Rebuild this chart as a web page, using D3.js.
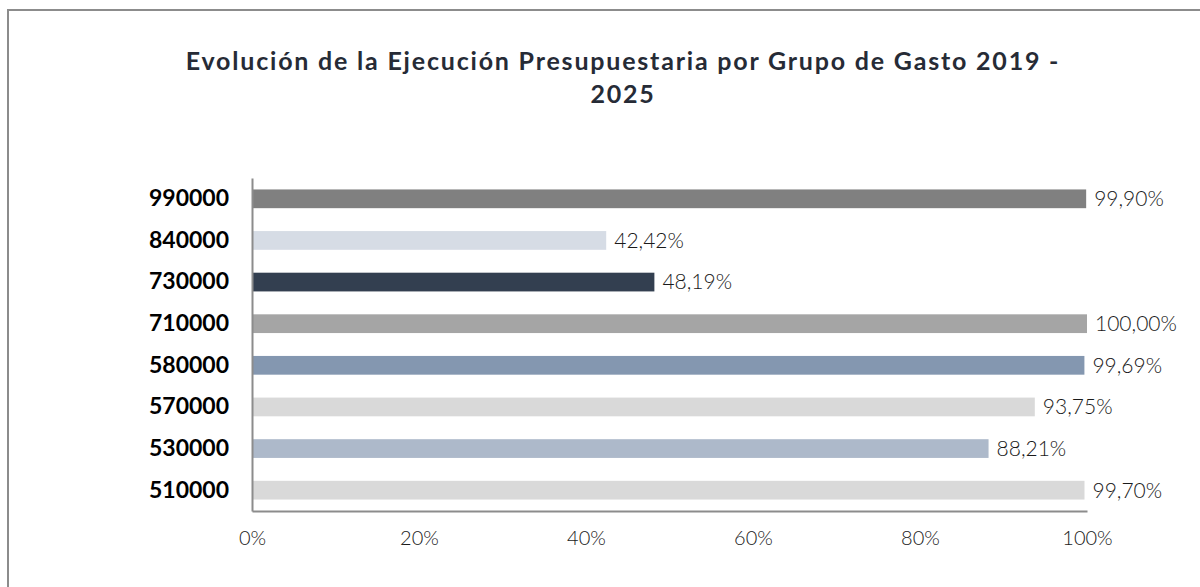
<!DOCTYPE html>
<html>
<head>
  <title></title>
  <script src="https://d3js.org/d3.v7.min.js"></script>
  <style>
    body { margin: 0; background: #fff; }
    text { font-family: "Lato", "Noto Sans", sans-serif; }
  </style>
</head>
<body>
<script type="text/javascript">
// data
var groups = ["990000", "840000", "730000", "710000", "580000", "570000", "530000", "510000"];
var values = [0.9990, 0.4242, 0.4819, 1.0000, 0.9969, 0.9375, 0.8821, 0.9970];
var colors = ["#808080", "#d6dce5", "#333f50", "#a5a5a5", "#8497b0", "#d9d9d9", "#adb9ca", "#d9d9d9"];
var ticks = [0, 0.2, 0.4, 0.6, 0.8, 1.0];
var titleLines = ["Evolución de la Ejecución Presupuestaria por Grupo de Gasto 2019 -", "2025"];

var W = 1200, H = 587;
var margin = {top: 178, right: 113, bottom: 76, left: 252},
    width = W - margin.left - margin.right,
    height = H - margin.top - margin.bottom;

var data = groups.map(function(g, i){ return {group: g, val: values[i], color: colors[i]}; });

var svg = d3.select("body")
            .append("svg")
            .attr("width", W)
            .attr("height", H);

// outer frame
svg.append("rect")
   .attr("x", 8).attr("y", 10)
   .attr("width", W).attr("height", H)
   .attr("fill", "none")
   .attr("stroke", "#8c8c8c")
   .attr("stroke-width", 2);

// title
svg.append("text")
   .attr("x", 623).attr("y", 70)
   .attr("text-anchor", "middle")
   .style("font-size", "25px")
   .style("font-weight", "bold")
   .style("letter-spacing", "1.8px")
   .style("fill", "#262b36")
   .selectAll("tspan")
   .data(titleLines)
   .enter()
   .append("tspan")
   .attr("x", 623)
   .attr("dy", function(d, i){ return i ? 33 : 0; })
   .text(function(d){ return d; });

var g = svg.append("g")
           .attr("transform", "translate(" + margin.left + "," + margin.top + ")");

var x = d3.scaleLinear().domain([0, 1]).range([0, width]);
var y = d3.scaleBand().domain(groups).range([0, height]).paddingInner(0.55).paddingOuter(0.275);

// bars
g.selectAll(".bar")
 .data(data)
 .enter()
 .append("rect")
 .attr("class", "bar")
 .attr("x", 0)
 .attr("y", function(d){ return y(d.group); })
 .attr("width", function(d){ return x(d.val); })
 .attr("height", y.bandwidth())
 .style("fill", function(d){ return d.color; });

// value labels
var fmt = function(v){ return (v * 100).toFixed(2).replace(".", ",") + "%"; };
g.selectAll(".lbl")
 .data(data)
 .enter()
 .append("text")
 .attr("class", "lbl")
 .attr("x", function(d){ return x(d.val) + 8; })
 .attr("y", function(d){ return y(d.group) + y.bandwidth() / 2; })
 .attr("dy", "0.35em")
 .style("font-size", "21px")
 .style("font-weight", "300")
 .style("fill", "#1a1a1a")
 .text(function(d){ return fmt(d.val); });

// axes
var xAxis = g.append("g")
             .attr("transform", "translate(0," + height + ")")
             .call(d3.axisBottom(x).tickValues(ticks).tickSize(0).tickPadding(20)
                     .tickFormat(function(d){ return Math.round(d * 100) + "%"; }));
xAxis.select(".domain").attr("stroke", "#8c8c8c").attr("stroke-width", 2);
xAxis.selectAll("text").style("font-size", "20px").style("font-weight", "300").style("fill", "#1a1a1a");

var yAxis = g.append("g")
             .call(d3.axisLeft(y).tickSize(0).tickPadding(23));
yAxis.select(".domain").attr("stroke", "#8c8c8c").attr("stroke-width", 2);
yAxis.selectAll("text").style("font-size", "23px").style("font-weight", "bold").style("fill", "#000");
</script>
</body>
</html>
